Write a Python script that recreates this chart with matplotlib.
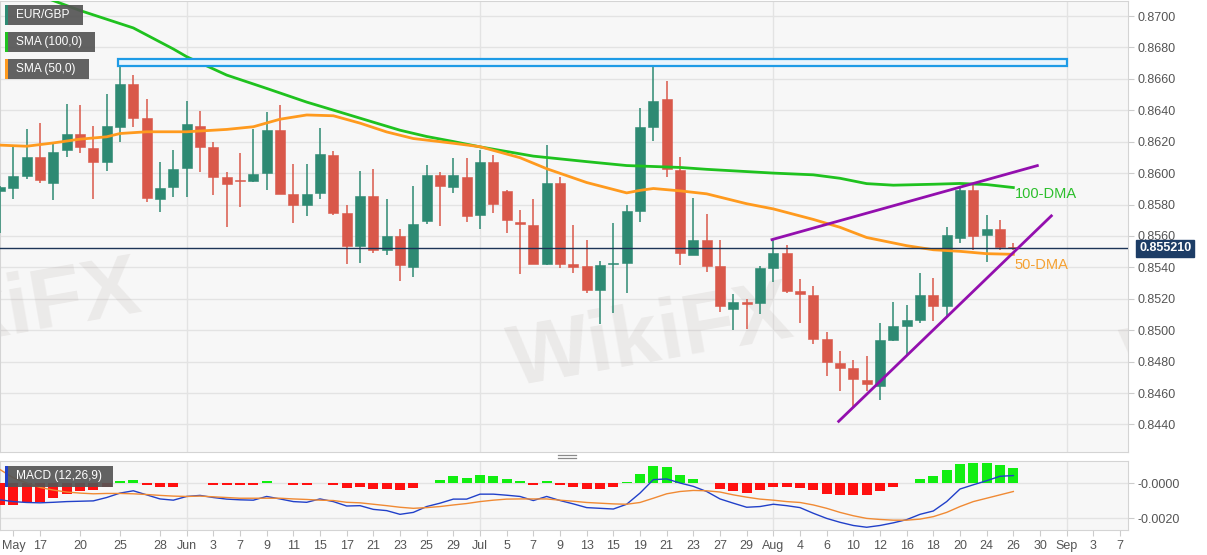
import numpy as np
import pandas as pd
import matplotlib
matplotlib.use("Agg")
import matplotlib.pyplot as plt
from matplotlib.patches import Rectangle
from matplotlib.lines import Line2D

plt.rcParams['font.family'] = ['Liberation Sans', 'DejaVu Sans']

# daily EUR/GBP candles, 2021-05-12 .. 2021-08-26 (weekdays)
dates = pd.bdate_range('2021-05-12', '2021-08-26')

opens = [0.85888, 0.85906, 0.85982, 0.86103, 0.85938, 0.86150, 0.86252, 0.86161, 0.86071, 0.86291,
         0.86565, 0.86348, 0.85832, 0.85910, 0.86031, 0.86299, 0.86163, 0.85976, 0.85955, 0.85950,
         0.86001, 0.86273, 0.85870, 0.85795, 0.85874, 0.86114, 0.85749, 0.85536, 0.85853, 0.85513,
         0.85598, 0.85402, 0.85695, 0.85987, 0.85912, 0.85976, 0.85732, 0.86071, 0.85887, 0.85689,
         0.85672, 0.85424, 0.85938, 0.85419, 0.85407, 0.85254, 0.85421, 0.85430, 0.85757, 0.86294,
         0.86469, 0.86018, 0.85481, 0.85577, 0.85407, 0.85137, 0.85179, 0.85173, 0.85398, 0.85491,
         0.85247, 0.85226, 0.84941, 0.84793, 0.84757, 0.84680, 0.84644, 0.84939, 0.85024, 0.85067,
         0.85222, 0.85152, 0.85590, 0.85891, 0.85609, 0.85647, 0.85526]
highs = [0.85915, 0.86171, 0.86280, 0.86322, 0.86189, 0.86437, 0.86433, 0.86299, 0.86501, 0.86713,
         0.86624, 0.86469, 0.86068, 0.86150, 0.86458, 0.86395, 0.86199, 0.86008, 0.86129, 0.86278,
         0.86386, 0.86433, 0.86061, 0.86061, 0.86288, 0.86140, 0.85800, 0.86012, 0.86023, 0.85832,
         0.85647, 0.85921, 0.86050, 0.86004, 0.86093, 0.86093, 0.86150, 0.86114, 0.85895, 0.85768,
         0.85832, 0.86182, 0.85972, 0.85668, 0.85577, 0.85438, 0.85685, 0.85800, 0.86416, 0.86694,
         0.86588, 0.86103, 0.85844, 0.85738, 0.85572, 0.85233, 0.85201, 0.85407, 0.85579, 0.85540,
         0.85328, 0.85281, 0.84988, 0.84865, 0.84808, 0.84835, 0.85048, 0.85179, 0.85158, 0.85364,
         0.85335, 0.85657, 0.85908, 0.85934, 0.85732, 0.85700, 0.85558]
lows = [0.85617, 0.85838, 0.85961, 0.85940, 0.85827, 0.86103, 0.86129, 0.85832, 0.86014, 0.86195,
        0.86294, 0.85816, 0.85753, 0.85848, 0.85848, 0.86004, 0.85859, 0.85657, 0.85781, 0.85944,
        0.85895, 0.85864, 0.85683, 0.85727, 0.85832, 0.85736, 0.85424, 0.85428, 0.85491, 0.85481,
        0.85311, 0.85338, 0.85674, 0.85663, 0.85874, 0.85689, 0.85642, 0.85749, 0.85621, 0.85360,
        0.85419, 0.85417, 0.85398, 0.85364, 0.85239, 0.85037, 0.85112, 0.85239, 0.85689, 0.86203,
        0.85972, 0.85413, 0.85477, 0.85370, 0.85115, 0.84999, 0.85005, 0.85105, 0.85307, 0.85239,
        0.85048, 0.84910, 0.84706, 0.84616, 0.84510, 0.84612, 0.84557, 0.84931, 0.84839, 0.85048,
        0.85058, 0.85084, 0.85555, 0.85509, 0.85434, 0.85509, 0.85509]
closes = [0.85912, 0.85980, 0.86103, 0.85955, 0.86135, 0.86252, 0.86167, 0.86071, 0.86299, 0.86565,
          0.86348, 0.85844, 0.85908, 0.86029, 0.86310, 0.86163, 0.85976, 0.85929, 0.85948, 0.85997,
          0.86273, 0.85870, 0.85795, 0.85870, 0.86119, 0.85749, 0.85536, 0.85853, 0.85513, 0.85600,
          0.85413, 0.85679, 0.85987, 0.85917, 0.85987, 0.85727, 0.86071, 0.85802, 0.85700, 0.85674,
          0.85424, 0.85938, 0.85424, 0.85402, 0.85254, 0.85413, 0.85428, 0.85757, 0.86294, 0.86460,
          0.86023, 0.85491, 0.85577, 0.85407, 0.85152, 0.85179, 0.85164, 0.85396, 0.85491, 0.85249,
          0.85228, 0.84943, 0.84797, 0.84757, 0.84688, 0.84655, 0.84939, 0.85024, 0.85067, 0.85226,
          0.85152, 0.85609, 0.85891, 0.85598, 0.85647, 0.85530, 0.85521]
last_price = 0.855210

# moving averages as drawn on the chart (read at these sessions)
sma100_dates = ['2021-05-12', '2021-05-18', '2021-05-20', '2021-05-26', '2021-05-31', '2021-06-01',
                '2021-06-04', '2021-06-09', '2021-06-14', '2021-06-16', '2021-06-21', '2021-06-23',
                '2021-06-25', '2021-06-29', '2021-07-01', '2021-07-07', '2021-07-13', '2021-07-16',
                '2021-07-22', '2021-07-26', '2021-08-02', '2021-08-05', '2021-08-09', '2021-08-11',
                '2021-08-13', '2021-08-18', '2021-08-20', '2021-08-24', '2021-08-26']
sma100 = [0.87223, 0.87098, 0.87035, 0.86924, 0.86790, 0.86741, 0.86624, 0.86539, 0.86452, 0.86401,
          0.86324, 0.86273, 0.86233, 0.86201, 0.86167, 0.86108, 0.86073, 0.86048, 0.86036, 0.86024,
          0.86000, 0.85989, 0.85967, 0.85933, 0.85923, 0.85929, 0.85934, 0.85927, 0.85908]
sma50_dates = ['2021-05-12', '2021-05-14', '2021-05-18', '2021-05-20', '2021-05-24', '2021-05-25',
               '2021-05-27', '2021-06-01', '2021-06-04', '2021-06-08', '2021-06-10', '2021-06-14',
               '2021-06-16', '2021-06-18', '2021-06-22', '2021-06-24', '2021-06-29', '2021-07-01',
               '2021-07-06', '2021-07-08', '2021-07-13', '2021-07-16', '2021-07-19', '2021-07-20',
               '2021-07-22', '2021-07-26', '2021-07-29', '2021-08-02', '2021-08-05', '2021-08-09',
               '2021-08-11', '2021-08-16', '2021-08-18', '2021-08-20', '2021-08-24', '2021-08-26']
sma50 = [0.86178, 0.86171, 0.86192, 0.86216, 0.86231, 0.86252, 0.86263, 0.86263, 0.86278, 0.86295,
         0.86343, 0.86370, 0.86365, 0.86318, 0.86262, 0.86220, 0.86190, 0.86168, 0.86098, 0.86028,
         0.85940, 0.85874, 0.85890, 0.85902, 0.85887, 0.85868, 0.85805, 0.85772, 0.85705, 0.85655,
         0.85590, 0.85538, 0.85512, 0.85502, 0.85487, 0.85483]

# MACD (12,26,9)
macd = [-0.00095, -0.00105, -0.00110, -0.00112, -0.00109, -0.00105, -0.00103, -0.00101, -0.00082, -0.00057,
        -0.00044, -0.00067, -0.00090, -0.00097, -0.00076, -0.00070, -0.00082, -0.00091, -0.00095, -0.00097,
        -0.00076, -0.00090, -0.00105, -0.00109, -0.00090, -0.00105, -0.00130, -0.00128, -0.00149, -0.00156,
        -0.00177, -0.00166, -0.00133, -0.00114, -0.00091, -0.00091, -0.00063, -0.00063, -0.00069, -0.00076,
        -0.00099, -0.00076, -0.00099, -0.00118, -0.00139, -0.00143, -0.00147, -0.00120, -0.00057, 0.00019,
        0.00023, 0.00000, -0.00019, -0.00048, -0.00090, -0.00114, -0.00137, -0.00133, -0.00120, -0.00128,
        -0.00139, -0.00171, -0.00200, -0.00222, -0.00240, -0.00250, -0.00240, -0.00225, -0.00207, -0.00177,
        -0.00158, -0.00105, -0.00034, -0.00010, 0.00013, 0.00038, 0.00042]
signal = [0.00076, 0.00029, 0.00000, -0.00025, -0.00040, -0.00051, -0.00057, -0.00061, -0.00059, -0.00059,
          -0.00061, -0.00065, -0.00070, -0.00074, -0.00076, -0.00074, -0.00078, -0.00082, -0.00086, -0.00086,
          -0.00086, -0.00086, -0.00090, -0.00093, -0.00097, -0.00099, -0.00109, -0.00112, -0.00120, -0.00128,
          -0.00137, -0.00143, -0.00139, -0.00133, -0.00124, -0.00116, -0.00105, -0.00097, -0.00091, -0.00090,
          -0.00090, -0.00090, -0.00097, -0.00103, -0.00110, -0.00114, -0.00118, -0.00120, -0.00110, -0.00086,
          -0.00061, -0.00048, -0.00042, -0.00044, -0.00051, -0.00067, -0.00080, -0.00091, -0.00097, -0.00105,
          -0.00110, -0.00124, -0.00143, -0.00166, -0.00185, -0.00200, -0.00206, -0.00210, -0.00210, -0.00204,
          -0.00190, -0.00166, -0.00133, -0.00105, -0.00086, -0.00067, -0.00048]
hist = [-0.00124, -0.00124, -0.00110, -0.00105, -0.00086, -0.00061, -0.00048, -0.00038, -0.00023, 0.00010,
        0.00015, -0.00010, -0.00023, -0.00023, -0.00002, 0.00002, -0.00010, -0.00010, -0.00010, -0.00010,
        0.00010, -0.00002, -0.00010, -0.00010, 0.00002, -0.00010, -0.00030, -0.00020, -0.00032, -0.00032,
        -0.00042, -0.00027, 0.00002, 0.00019, 0.00038, 0.00029, 0.00046, 0.00038, 0.00023, 0.00013,
        -0.00010, 0.00011, -0.00010, -0.00020, -0.00034, -0.00034, -0.00025, 0.00003, 0.00053, 0.00095,
        0.00090, 0.00048, 0.00025, -0.00002, -0.00034, -0.00048, -0.00057, -0.00042, -0.00025, -0.00025,
        -0.00027, -0.00042, -0.00061, -0.00067, -0.00070, -0.00070, -0.00048, -0.00023, -0.00002, 0.00023,
        0.00038, 0.00072, 0.00110, 0.00112, 0.00112, 0.00099, 0.00086]

# resistance zone and trend lines
zone_dates = ('2021-05-25', '2021-09-01')
zone_prices = (0.86683, 0.86724)
upper_trend = ('2021-08-02', '2021-08-23')   # through these highs
lower_trend = ('2021-08-10', '2021-08-19')   # through these lows

tick_dates = ['2021-05-13', '2021-05-17', '2021-05-20', '2021-05-25', '2021-05-28', '2021-06-01',
              '2021-06-03', '2021-06-07', '2021-06-09', '2021-06-11', '2021-06-15', '2021-06-17',
              '2021-06-21', '2021-06-23', '2021-06-25', '2021-06-29', '2021-07-01', '2021-07-05',
              '2021-07-07', '2021-07-09', '2021-07-13', '2021-07-15', '2021-07-19', '2021-07-21',
              '2021-07-23', '2021-07-27', '2021-07-29', '2021-08-02', '2021-08-04', '2021-08-06',
              '2021-08-10', '2021-08-12', '2021-08-16', '2021-08-18', '2021-08-20', '2021-08-24',
              '2021-08-26', '2021-08-30', '2021-09-01', '2021-09-03', '2021-09-07']
month_starts = ['2021-06-01', '2021-07-01', '2021-08-02', '2021-09-01']

# session index lookup, extended past the last candle
all_days = pd.bdate_range('2021-05-12', '2021-09-10')
def pos(d):
    return all_days.get_loc(pd.Timestamp(d))

GREEN_C = '#2e8a73'
RED_C = '#d9584a'
BG = '#f7f7f7'
GRID = '#e3e3e3'

fig = plt.figure(figsize=(12.07, 5.55), dpi=100)
W, H = 1207, 555
ax = fig.add_axes([0, 1 - 452 / H, 1128 / W, 451 / H])
mx = fig.add_axes([0, 1 - 530 / H, 1128 / W, 69 / H], sharex=ax)

for a in (ax, mx):
    a.set_facecolor(BG)
    for s in a.spines.values():
        s.set_color('#d4d4d4')
    for d in month_starts:
        a.axvline(pos(d), color=GRID, lw=1, zorder=0)

x = np.arange(len(dates))
o = np.array(opens); h = np.array(highs); l = np.array(lows); c = np.array(closes)
up = c >= o
cols = np.where(up, GREEN_C, RED_C)

ax.set_xlim(0.0, 84.6)
ax.set_ylim(0.842246, 0.870955)

# watermarks, clipped to the price panel
for wx, wp in [(-11.2, 0.8510), (37.7, 0.8494), (83.8, 0.8493)]:
    ax.text(wx, wp, 'WikiFX', fontsize=62, fontweight='bold', color='#a89e98', alpha=0.15,
            rotation=10, ha='left', va='center', zorder=1, clip_on=True)

ax.set_yticks(np.arange(0.844, 0.87001, 0.002))
ax.grid(axis='y', color=GRID, lw=1)
ax.set_axisbelow(True)

ax.vlines(x, l, h, colors=cols, lw=1.1, zorder=3)
body_lo = np.minimum(o, c)
body_h = np.maximum(np.abs(c - o), 0.00007)
ax.bar(x, body_h, bottom=body_lo, width=0.74, color=cols, edgecolor=cols, lw=0.4, zorder=4)

ax.plot([pos(d) for d in sma100_dates], sma100, color='#1fc21f', lw=2, zorder=5)
ax.plot([pos(d) for d in sma50_dates], sma50, color='#ff9a1e', lw=2, zorder=5)

ax.add_patch(Rectangle((pos(zone_dates[0]) - 0.15, zone_prices[0]),
                       pos(zone_dates[1]) - pos(zone_dates[0]) + 0.15, zone_prices[1] - zone_prices[0],
                       facecolor='#eaf5fd', edgecolor='#1e9be6', lw=1.6, zorder=6))

# trend lines
i1, i2 = pos(upper_trend[0]), pos(upper_trend[1])
p1, p2 = h[i1], h[i2]
k = (p2 - p1) / (i2 - i1)
ux = np.array([i1 - 0.1, 77.8])
ax.plot(ux, p1 + k * (ux - i1), color='#930fae', lw=2, zorder=7)
j1, j2 = pos(lower_trend[0]), pos(lower_trend[1])
q1, q2 = l[j1], l[j2]
k2 = (q2 - q1) / (j2 - j1)
lx = np.array([62.9, 78.85])
ax.plot(lx, q1 + k2 * (lx - j1), color='#930fae', lw=2, zorder=7)

ax.axhline(last_price, color='#1d3557', lw=1, zorder=6)
ax.annotate(f'{last_price:.6f}', xy=(1.0, last_price), xycoords=('axes fraction', 'data'),
            xytext=(8, 0), textcoords='offset points', va='center', ha='left',
            color='white', fontsize=9, fontweight='bold', annotation_clip=False,
            bbox=dict(boxstyle='square,pad=0.22', fc='#1d3d66', ec='#1d3d66'))

ax.annotate('100-DMA', xy=(pos(sma100_dates[-1]), sma100[-1]), xytext=(1, -5),
            textcoords='offset points', va='center', ha='left', color='#2cbf2c', fontsize=10.5)
ax.annotate('50-DMA', xy=(pos(sma50_dates[-1]), sma50[-1]), xytext=(1, -8),
            textcoords='offset points', va='center', ha='left', color='#f5a030', fontsize=10.5)

ax.yaxis.tick_right()
ax.yaxis.set_major_formatter(matplotlib.ticker.FormatStrFormatter('%.4f'))
ax.tick_params(axis='y', length=4, pad=3, colors='#cccccc', labelcolor='#555555', labelsize=9)
ax.tick_params(axis='x', bottom=False, labelbottom=False)

# MACD panel
mx.axhline(0, color=GRID, lw=1, zorder=0)
mx.axhline(-0.002, color=GRID, lw=1, zorder=0)
hv = np.array(hist)
mx.bar(x, hv, width=0.74, color=np.where(hv >= 0, '#11ee11', '#ff1010'), zorder=3)
mx.plot(x, macd, color='#2140c9', lw=1, zorder=4)
mx.plot(x, signal, color='#f08a34', lw=1, zorder=4)
mx.set_ylim(-0.002655, 0.001243)
mx.yaxis.tick_right()
mx.set_yticks([0.0, -0.002])
mx.set_yticklabels(['-0.0000', '-0.0020'])
mx.tick_params(axis='y', length=4, pad=3, colors='#cccccc', labelcolor='#555555', labelsize=9)

tick_pos = [pos(d) for d in tick_dates]
labels = []
prev_month = None
for d in tick_dates:
    t = pd.Timestamp(d)
    labels.append(t.strftime('%b') if t.month != prev_month else str(t.day))
    prev_month = t.month
mx.set_xticks(tick_pos)
mx.set_xticklabels(labels)
mx.tick_params(axis='x', length=4, pad=3, colors='#cccccc', labelcolor='#555555', labelsize=9)
mx.set_xlim(0.0, 84.6)

# legend boxes
def label_box(x0, y0, w, hgt, strip, text):
    fig.add_artist(Rectangle((x0 / W, 1 - (y0 + hgt) / H), w / W, hgt / H, transform=fig.transFigure,
                             facecolor='#555555', alpha=0.92, edgecolor='none', zorder=20))
    fig.add_artist(Rectangle((x0 / W, 1 - (y0 + hgt) / H), 2.5 / W, hgt / H, transform=fig.transFigure,
                             facecolor=strip, edgecolor='none', zorder=21))
    fig.text((x0 + 11) / W, 1 - (y0 + hgt / 2) / H, text, color='white', fontsize=8.6,
             va='center', ha='left', zorder=22)

label_box(5, 5, 78, 20, GREEN_C, 'EUR/GBP')
label_box(5, 32, 90, 20, '#1fc21f', 'SMA (100,0)')
label_box(5, 59, 84, 20, '#ff9a1e', 'SMA (50,0)')
label_box(5, 466, 108, 21, '#2140c9', 'MACD (12,26,9)')

# panel separator handle
for yy in (454.5, 457.5):
    fig.add_artist(Line2D([558 / W, 576 / W], [1 - yy / H, 1 - yy / H], color='#8a8a8a', lw=0.9,
                          transform=fig.transFigure))

fig.savefig('out.png', dpi=100, facecolor='white')
